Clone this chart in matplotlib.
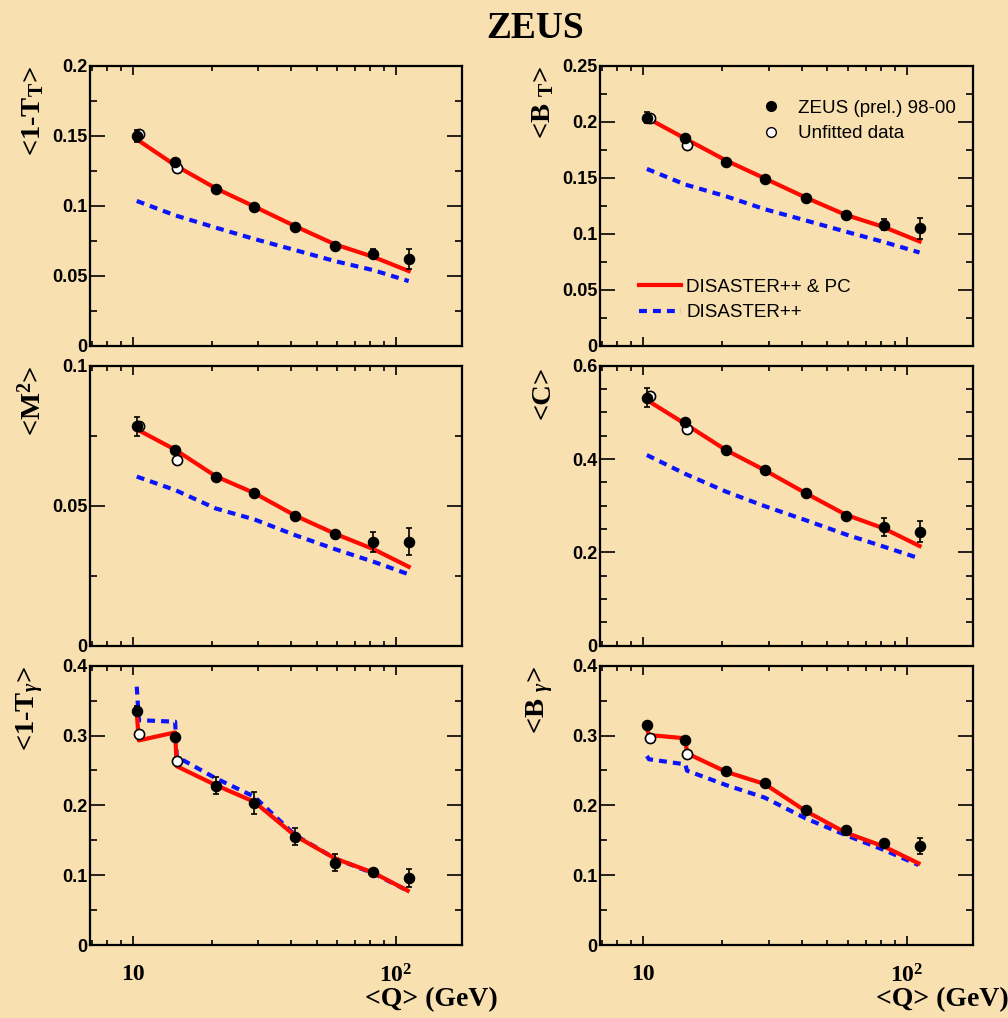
import matplotlib.pyplot as plt
import numpy as np
from matplotlib.ticker import FixedLocator, FuncFormatter, MultipleLocator, NullFormatter
from matplotlib.lines import Line2D

plt.rcParams['mathtext.fontset'] = 'custom'
plt.rcParams['mathtext.rm'] = 'Liberation Serif:bold'
plt.rcParams['mathtext.bf'] = 'Liberation Serif:bold'
plt.rcParams['mathtext.it'] = 'Liberation Serif:italic:bold'

# mean Q of the bins (GeV)
q = [10.36, 14.5, 20.7, 29.0, 41.4, 58.7, 82.2, 112.0]
q_open = [10.6, 14.7]
q_gam = [10.36, 10.55, 14.5, 14.7, 20.7, 29.0, 41.4, 58.7, 82.2, 111.0]

# <1-T_T>
tt_data = [0.150, 0.1316, 0.112, 0.0994, 0.0846, 0.071, 0.0658, 0.062]
tt_err = [0.004, 0.002, 0.001, 0.001, 0.001, 0.001, 0.003, 0.007]
tt_open = [0.1514, 0.1268]
tt_pc = [0.1476, 0.129, 0.1125, 0.0995, 0.0855, 0.0725, 0.0635, 0.0534]
tt_nlo = [0.1035, 0.0932, 0.0844, 0.0763, 0.0684, 0.0605, 0.054, 0.0462]

# <B_T>
bt_data = [0.2037, 0.1855, 0.164, 0.149, 0.1323, 0.1165, 0.1081, 0.1048]
bt_err = [0.005, 0.002, 0.001, 0.001, 0.001, 0.001, 0.005, 0.0095]
bt_open = [0.2037, 0.1798]
bt_pc = [0.2037, 0.185, 0.1655, 0.1495, 0.1325, 0.117, 0.106, 0.0932]
bt_nlo = [0.158, 0.144, 0.1335, 0.122, 0.112, 0.102, 0.0926, 0.0833]

# <M^2>
m2_data = [0.0783, 0.0699, 0.0602, 0.0544, 0.0463, 0.040, 0.0371, 0.0371]
m2_err = [0.0035, 0.001, 0.0005, 0.0005, 0.0005, 0.0005, 0.0035, 0.0048]
m2_open = [0.0785, 0.0662]
m2_pc = [0.0773, 0.070, 0.0605, 0.0545, 0.0465, 0.040, 0.0345, 0.0282]
m2_nlo = [0.0604, 0.0556, 0.049, 0.0451, 0.0395, 0.0345, 0.030, 0.0255]

# <C>
c_data = [0.5314, 0.480, 0.420, 0.3764, 0.3264, 0.2786, 0.2543, 0.2443]
c_err = [0.02, 0.005, 0.003, 0.003, 0.003, 0.003, 0.02, 0.022]
c_open = [0.535, 0.4636]
c_pc = [0.5264, 0.475, 0.419, 0.376, 0.327, 0.281, 0.251, 0.2136]
c_nlo = [0.4086, 0.368, 0.330, 0.299, 0.269, 0.2386, 0.212, 0.187]

# <1-T_gamma>
tg_data = [0.3356, 0.2983, 0.228, 0.2029, 0.155, 0.118, 0.105, 0.0955]
tg_err = [0.006, 0.006, 0.012, 0.016, 0.012, 0.012, 0.004, 0.013]
tg_open = [0.3017, 0.2635]
tg_pc = [0.333, 0.293, 0.3045, 0.256, 0.229, 0.205, 0.1566, 0.124, 0.1036, 0.0778]
tg_nlo = [0.370, 0.322, 0.3198, 0.2697, 0.2387, 0.2124, 0.1575, 0.124, 0.1026, 0.0778]

# <B_gamma>
bg_data = [0.3155, 0.2931, 0.2487, 0.2315, 0.193, 0.1642, 0.1465, 0.142]
bg_err = [0.003, 0.003, 0.003, 0.003, 0.003, 0.003, 0.003, 0.011]
bg_open = [0.2964, 0.273]
bg_pc = [0.310, 0.3007, 0.296, 0.2745, 0.248, 0.2305, 0.192, 0.161, 0.141, 0.117]
bg_nlo = [0.2706, 0.266, 0.2587, 0.2497, 0.229, 0.211, 0.1814, 0.1575, 0.136, 0.1146]

bg = '#f8e0b0'
fig = plt.figure(figsize=(10.08, 10.18), dpi=100, facecolor=bg)

W, H = 1008.0, 1018.0
cols = [(90, 372), (600, 373)]
rows = [(66, 279.7), (365.7, 280), (665.7, 279.3)]

panels = [
    (tt_data, tt_err, tt_open, tt_pc, tt_nlo, q, '<1-T$_{\\mathrm{T}}$>', 0.2, 0.05, 0.025),
    (bt_data, bt_err, bt_open, bt_pc, bt_nlo, q, '<B $_{\\mathrm{T}}$>', 0.25, 0.05, 0.025),
    (m2_data, m2_err, m2_open, m2_pc, m2_nlo, q, '<M$^{2}$>', 0.1, 0.05, 0.025),
    (c_data, c_err, c_open, c_pc, c_nlo, q, '<C>', 0.6, 0.2, 0.05),
    (tg_data, tg_err, tg_open, tg_pc, tg_nlo, q_gam, '<1-T$_{\\gamma}$>', 0.4, 0.1, 0.05),
    (bg_data, bg_err, bg_open, bg_pc, bg_nlo, q_gam, '<B $_{\\gamma}$>', 0.4, 0.1, 0.05),
]

fmt = FuncFormatter(lambda v, p: '%g' % round(v, 4))

for i, (dat, err, opn, pc, nlo, xth, lab, ymax, maj, mnr) in enumerate(panels):
    r, c = divmod(i, 2)
    x0, w = cols[c]
    y0, h = rows[r]
    ax = fig.add_axes([x0 / W, 1 - (y0 + h) / H, w / W, h / H])
    ax.set_facecolor(bg)
    ax.set_xscale('log')
    ax.set_xlim(6.88, 178.6)
    ax.set_ylim(0, ymax)

    ax.plot(xth, nlo, color='#0a14ff', lw=3, dashes=(1.9, 1.45), zorder=2)
    ax.plot(xth, pc, color='#ff0a00', lw=3, zorder=3)
    ax.errorbar(q, dat, yerr=err, fmt='o', color='black', ms=7.3, elinewidth=1.2,
                capsize=2.5, capthick=1.2, zorder=5)
    ax.errorbar(q_open, opn, yerr=[e * 0.5 for e in err[:2]], fmt='o', mfc='white',
                mec='black', color='black', ms=7.3, mew=1.2, elinewidth=1.2, capsize=0, zorder=4)

    ax.yaxis.set_major_locator(MultipleLocator(maj))
    ax.yaxis.set_minor_locator(MultipleLocator(mnr))
    ax.yaxis.set_major_formatter(fmt)
    ax.xaxis.set_major_locator(FixedLocator([10, 100]))
    ax.xaxis.set_minor_locator(FixedLocator([7, 8, 9, 20, 30, 40, 50, 60, 70, 80, 90]))
    ax.xaxis.set_minor_formatter(NullFormatter())
    ax.tick_params(axis='both', which='both', direction='in', top=True, right=True, width=1.2)
    ax.tick_params(axis='y', which='major', length=10.5, pad=2, labelsize=13)
    ax.tick_params(axis='y', which='minor', length=5)
    ax.tick_params(axis='x', which='major', length=6.5, pad=14, labelsize=17)
    ax.tick_params(axis='x', which='minor', length=3.5)
    for lb in ax.get_yticklabels():
        lb.set_fontfamily('Liberation Sans')
        lb.set_fontweight('bold')
    for s in ax.spines.values():
        s.set_linewidth(1.6)

    if r == 2:
        ax.set_xticklabels(['10', '10$^{2}$'], fontfamily='Liberation Serif', fontweight='bold')
        ax.set_xlabel('<Q> (GeV)', fontfamily='Liberation Serif', fontweight='bold',
                      fontsize=20, loc='right')
        ax.xaxis.set_label_coords(1.095, -0.15)
    else:
        ax.set_xticklabels([])

    ax.set_ylabel(lab, fontfamily='Liberation Serif', fontweight='bold', fontsize=20.5, loc='top')
    ax.yaxis.set_label_coords(-0.118, 1.0)

    if i == 1:
        h1 = Line2D([], [], ls='none', marker='o', color='black', ms=7)
        h2 = Line2D([], [], ls='none', marker='o', mfc='white', mec='black', ms=7)
        l1 = ax.legend([h1, h2], ['ZEUS (prel.) 98-00', 'Unfitted data'], loc='upper left',
                       bbox_to_anchor=(0.375, 0.94), frameon=False, handlelength=1.5,
                       handletextpad=0.7, labelspacing=0.45,
                       prop={'family': 'Liberation Sans', 'size': 13.5})
        ax.add_artist(l1)
        h3 = Line2D([], [], color='#ff0a00', lw=3)
        h4 = Line2D([], [], color='#0a14ff', lw=3, dashes=(1.9, 1.45))
        ax.legend([h3, h4], ['DISASTER++ & PC', 'DISASTER++'], loc='upper left',
                  bbox_to_anchor=(0.06, 0.3), frameon=False, handlelength=2.2,
                  handletextpad=0.3, labelspacing=0.45,
                  prop={'family': 'Liberation Sans', 'size': 13.5})

fig.text(535 / W, 1 - 28 / H, 'ZEUS', ha='center', va='center', fontfamily='Liberation Serif',
         fontweight='bold', fontsize=27)

fig.savefig('out.png', dpi=100, facecolor=bg)
